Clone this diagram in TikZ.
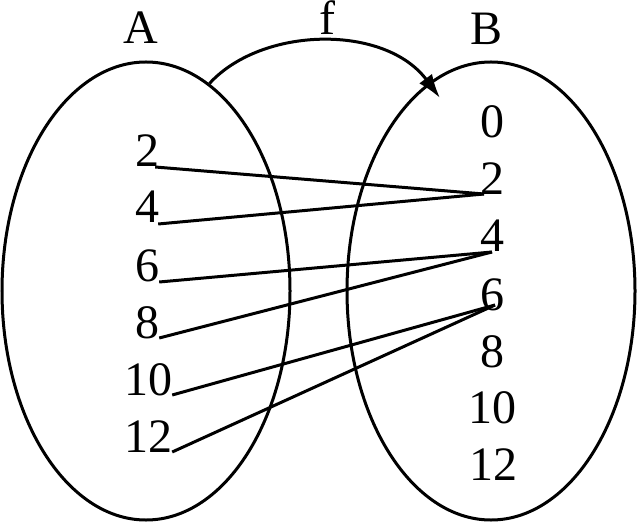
\documentclass[tikz,border=0pt]{standalone}
\usepackage{fontspec}
\setmainfont{Liberation Serif}
\usetikzlibrary{shapes.geometric,arrows.meta,calc}
\begin{document}
\begin{tikzpicture}[x=1bp,y=-1bp,
  num/.style={anchor=base,inner sep=0pt,font=\fontsize{48bp}{58bp}\selectfont},
  setell/.style={draw,ellipse,line width=3bp,inner sep=0pt,minimum width=288bp,minimum height=458bp},
  link/.style={line width=3bp},
  mapping/.style={line width=3bp,-{Latex[length=24bp,width=16bp]}}]
\useasboundingbox (0,0) rectangle (637,524);
\node[setell] (SA) at (146,291) {};
\node[setell] (SB) at (491,291) {};
\node[num] (A) at (141,44) {A};
\node[num] (B) at (486,45) {B};
\node[num] (f) at (327,35) {f};
% left set
\node[num] (l2) at (147,167) {2};
\node[num] (l4) at (147,223) {4};
\node[num] (l6) at (147,281) {6};
\node[num] (l8) at (147,338) {8};
\node[num] (l10) at (148,395) {10};
\node[num] (l12) at (148,452) {12};
% right set
\node[num] (r0) at (492,138) {0};
\node[num] (r2) at (492,195) {2};
\node[num] (r4) at (492,252) {4};
\node[num] (r6) at (492,310) {6};
\node[num] (r8) at (492,367) {8};
\node[num] (r10) at (492,423) {10};
\node[num] (r12) at (493,480) {12};
% connectors
\coordinate (t2) at ($(r2.base)+(-8,-1)$);
\coordinate (t4) at ($(r4.base)+(0,0)$);
\coordinate (t6) at ($(r6.base)+(3,-5)$);
\draw[link] ($(l2.base east)+(-4,0)$) -- (t2);
\draw[link] ($(l4.base east)+(-1,1)$) -- (t2);
\draw[link] ($(l6.base east)+(0,1)$) -- (t4);
\draw[link] ($(l8.base east)+(0,0)$) -- (t4);
\draw[link] ($(l10.base east)+(0,0)$) -- (t6);
\draw[link] ($(l12.base east)+(0,0)$) -- (t6);
% mapping arrow
\coordinate (tip) at (440,98);
\draw[mapping] (SA.73) .. controls (262,26) and (385,24) .. (tip);
\end{tikzpicture}
\end{document}
